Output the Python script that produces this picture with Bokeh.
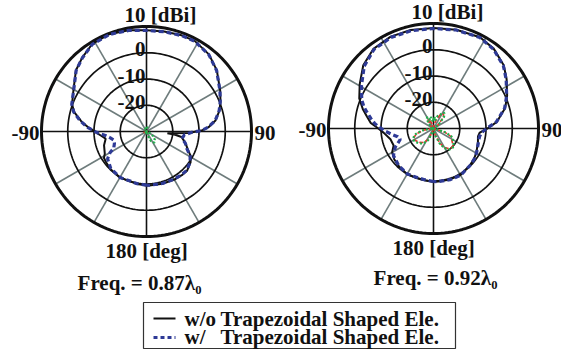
import numpy as np
from bokeh.plotting import figure
from bokeh.models import Range1d
from bokeh.embed import file_html
from bokeh.resources import INLINE
from bokeh.core.properties import value

# ---------------- data (angle in deg, clockwise from top; gain in dBi) ----------------
RING_VALUES = [-20, -10, 0, 10]
RING_LABELS = ["-20", "-10", "0"]
R_MIN, R_MAX = -30, 10
SPOKE_ANGLES = [0, 30, 60, 90, 120, 150, 180, 210, 240, 270, 300, 330]

# Freq = 0.87 lambda0
L_W_ANG = [-180, -170, -164, -150, -136, -125, -120, -117, -110, -105, -100, -96, -91, -86, -81, -75, -70,
           -60, -49, -41, -32, -21, -10, 0, 10, 20, 28, 39, 49, 61, 68, 74, 81, 86, 89, 91, 95, 101,
           107, 113, 119, 125, 134, 141, 149, 163, 177, 180]
L_W_DB = [-9.6, -9.8, -10.1, -9.8, -10.4, -11.9, -14, -16, -17, -17.2, -16, -14.5, -11, -7.5, -4.5, -1.3, 0.3,
          2.0, 5.5, 7.2, 9.1, 9.6, 9.1, 8.5, 8.6, 8.9, 9.0, 7.7, 5.4, 2.0, 0.3, -1.2, -3.5, -6.5, -9, -12.7, -15.5, -16.2,
          -14.5, -13.3, -11, -9.7, -8.7, -8.8, -9.0, -9.3, -9.5, -9.6]
L_WO_ANG = [-180, -170, -164, -150, -136, -128, -122, -118, -108, -100, -95, -91, -86, -81, -75, -70,
            -60, -49, -41, -32, -21, -10, 0, 10, 20, 28, 39, 49, 61, 68, 74, 81, 86, 89, 92, 94.5, 96.5, 99,
            103, 108, 113, 119, 125, 134, 141, 149, 163, 177, 180]
L_WO_DB = [-9.4, -9.7, -10, -9.7, -10.2, -10.6, -10.9, -12, -13, -14.2, -12.5, -10.7, -7.8, -4.8, -1.5, 0.2,
           2.1, 5.6, 7.3, 9.2, 9.7, 9.2, 8.6, 8.7, 9.0, 9.1, 7.8, 5.5, 2.1, 0.4, -1.1, -3.4, -6.3, -9, -14, -22, -19, -16.5,
           -15.5, -14.2, -13, -10.8, -9.5, -8.5, -8.6, -8.8, -9.2, -9.4, -9.4]
L_X_ANG = [-180, -150, -120, -108, -100, -80, -60, -30, 0, 30, 60, 90, 110, 125, 135, 145, 155, 165, 180]
L_XG_DB = [-30, -30, -29.5, -29, -29, -30, -30, -29, -28, -29, -30, -30, -29, -27, -25.5, -24.8, -26, -28.5, -30]
L_XR_DB = [-30, -30, -29.2, -28.9, -29.3, -29.8, -30, -30, -29.5, -30, -30, -30, -30, -29.5, -29.2, -29.5, -30, -30, -30]

# Freq = 0.92 lambda0
R_W_ANG = [-180, -170, -160, -150, -137, -124, -116, -112, -108, -103, -98, -93, -88, -85, -81, -75, -72, -68,
           -59, -48, -37, -25, -13, 0, 13, 27, 37, 48, 56, 66, 74, 84, 90, 95, 100, 107, 119, 127, 135,
           150, 162, 175, 180]
R_W_DB = [-9.8, -10.2, -10.3, -10, -10.6, -11.6, -13.8, -15.5, -16.7, -16, -14, -11.5, -9, -7.5, -5.9, -3.3, -2, -0.5,
          2.0, 5.5, 7.7, 8.3, 8.2, 8.1, 8.5, 8.9, 7.9, 5.8, 3.4, 0.5, -1.8, -5.9, -9.8, -11.6, -12.2, -12.1, -11.2, -10.6, -10.2,
          -9.4, -9.5, -9.7, -9.8]
R_WO_ANG = [-180, -170, -160, -150, -137, -128, -120, -113, -104, -95, -90, -85, -80, -75, -68, -59, -48, -37,
            -25, -13, 0, 13, 27, 37, 48, 56, 66, 74, 84, 90, 95, 100, 107, 119, 127, 135, 150, 162, 175, 180]
R_WO_DB = [-9.6, -10, -10.2, -9.9, -10.5, -11, -11.8, -13.5, -13.1, -11, -9, -6, -4.3, -2.2, 0.5, 2.8, 6, 8.0,
           8.6, 8.5, 8.3, 8.6, 9.0, 8.1, 6.0, 3.6, 0.7, -1.6, -5.7, -9.5, -12.3, -12.8, -12.3, -11.3, -10.7, -10.3, -9.5,
           -9.6, -9.7, -9.6]
R_X_ANG = [-180, -165, -155, -145, -135, -125, -117, -108, -100, -92, -80, -60, -45, -35, -28, -20, -12, -5, 0,
           5, 10, 18, 25, 30, 35, 42, 52, 62, 90, 100, 108, 115, 124, 131, 138, 143, 150, 157, 165, 172, 180]
R_XR_DB = [-30, -29, -25.5, -23.5, -22.5, -21.8, -21.4, -23, -26, -29.5, -30, -30, -28.5, -26.5, -26, -27.5, -29, -29.5, -29.5,
           -29, -28.5, -26.5, -24.5, -23.8, -23.3, -24.5, -28, -30, -30, -29.5, -25.5, -22.5, -21.5, -20.1, -20, -20.5, -21.7,
           -24, -27.5, -30, -30]
R_XG_DB = [-30, -28.5, -25, -23, -22, -21.3, -21.2, -22.5, -25.5, -29, -30, -29.5, -27.5, -25.5, -25, -26.5, -25.5, -27.5, -26.5,
           -25.5, -27, -25, -24.5, -23, -22.8, -24, -27.5, -29.5, -30, -29, -25, -22, -21, -19.7, -19.6, -20, -21.3,
           -23.5, -27, -29.5, -30]

TITLES = ["Freq. = 0.87\u03bb\u2080", "Freq. = 0.92\u03bb\u2080"]
LEGEND_LABELS = ["w/o", "w/"]
LEGEND_REST = "Trapezoidal Shaped Ele."

# ---------------- styling / layout ----------------
BLACK = "#111111"
BLUE = "#2e3a96"
GRAY = "#6e7c7c"
RED = "#e8332b"
GREEN = "#1fae4a"
FONT = value("Liberation Serif")
W, H = 561, 351
FS = "21px"
FS_LEG = "21px"

p = figure(width=W, height=H, output_backend="svg", toolbar_location=None,
           x_range=Range1d(0, W), y_range=Range1d(H, 0),
           x_axis_location=None, y_axis_location=None, min_border=0)
p.grid.visible = False
p.outline_line_color = None

R = 105.0


def to_xy(cx, cy, ang, db):
    a = np.radians(np.asarray(ang, dtype=float))
    r = (np.clip(np.asarray(db, dtype=float), R_MIN, R_MAX) - R_MIN) / (R_MAX - R_MIN) * R
    return cx + r * np.sin(a), cy - r * np.cos(a)


def label(xs, ys, texts, align, size=FS):
    p.text(xs, ys, text=texts, text_font=FONT, text_font_style="bold", text_font_size=size,
           text_align=align, text_baseline="middle", text_color=BLACK)


def polar_panel(cx, cy, w_ang, w_db, wo_ang, wo_db, x_ang, xr_db, xg_db, title, title_xy):
    # spokes
    for a in SPOKE_ANGLES:
        if a % 90:
            xs, ys = to_xy(cx, cy, [a, a], [R_MIN, R_MAX])
            p.line(xs, ys, line_color=GRAY, line_width=1.6)
    for a in [0, 90]:
        xs, ys = to_xy(cx, cy, [a, a + 180], [R_MAX, R_MAX])
        p.line(xs, ys, line_color=BLACK, line_width=1.6)
    # rings
    circ = np.arange(0, 361, 2)
    for rv in RING_VALUES:
        xs, ys = to_xy(cx, cy, circ, [rv] * len(circ))
        p.line(xs, ys, line_color=BLACK, line_width=3.0 if rv == R_MAX else 1.7)
    # cross-pol
    xs, ys = to_xy(cx, cy, x_ang, xr_db)
    p.line(xs, ys, line_color=RED, line_width=1.6, line_dash="4 2")
    xs, ys = to_xy(cx, cy, x_ang, xg_db)
    p.line(xs, ys, line_color=GREEN, line_width=2.2, line_dash="2 2")
    # co-pol
    xs, ys = to_xy(cx, cy, wo_ang, wo_db)
    p.line(xs, ys, line_color=BLACK, line_width=2.0)
    xs, ys = to_xy(cx, cy, w_ang, w_db)
    p.line(xs, ys, line_color=BLUE, line_width=3.2, line_dash="5 3")
    # ring labels
    lx, ly = [], []
    for rv in RING_VALUES[:-1]:
        _, y = to_xy(cx, cy, [0], [rv])
        lx.append(cx - 1)
        ly.append(y[0] - 3.5)
    label(lx, ly, RING_LABELS, "right")
    _, ytop = to_xy(cx, cy, [0], [R_MAX])
    label([cx + 14], [ytop[0] - 11.5], [f"{R_MAX} [dBi]"], "center")
    label([cx - R - 2], [cy + 1], ["-90"], "right")
    label([cx + R + 3], [cy + 1], ["90"], "left")
    label([cx], [cy + R + 14.5], ["180 [deg]"], "center")
    label([title_xy[0]], [title_xy[1]], [title], "center")


polar_panel(146, 131, L_W_ANG, L_W_DB, L_WO_ANG, L_WO_DB, L_X_ANG, L_XR_DB, L_XG_DB, TITLES[0], (139, 282.5))
polar_panel(433, 128, R_W_ANG, R_W_DB, R_WO_ANG, R_WO_DB, R_X_ANG, R_XR_DB, R_XG_DB, TITLES[1], (435, 277))

# legend
p.quad(left=[143], right=[455], top=[302], bottom=[348], fill_color="white",
       line_color="#333333", line_width=1.2)
p.line([153, 175], [318, 318], line_color=BLACK, line_width=2.2)
p.line([153, 175], [337, 337], line_color=BLUE, line_width=3.2, line_dash="4 3")
label([184, 184], [318, 336.5], LEGEND_LABELS, "left", FS_LEG)
label([220, 220], [318, 336.5], [LEGEND_REST, LEGEND_REST], "left", FS_LEG)

open("out.html", "w").write(file_html(p, INLINE))
